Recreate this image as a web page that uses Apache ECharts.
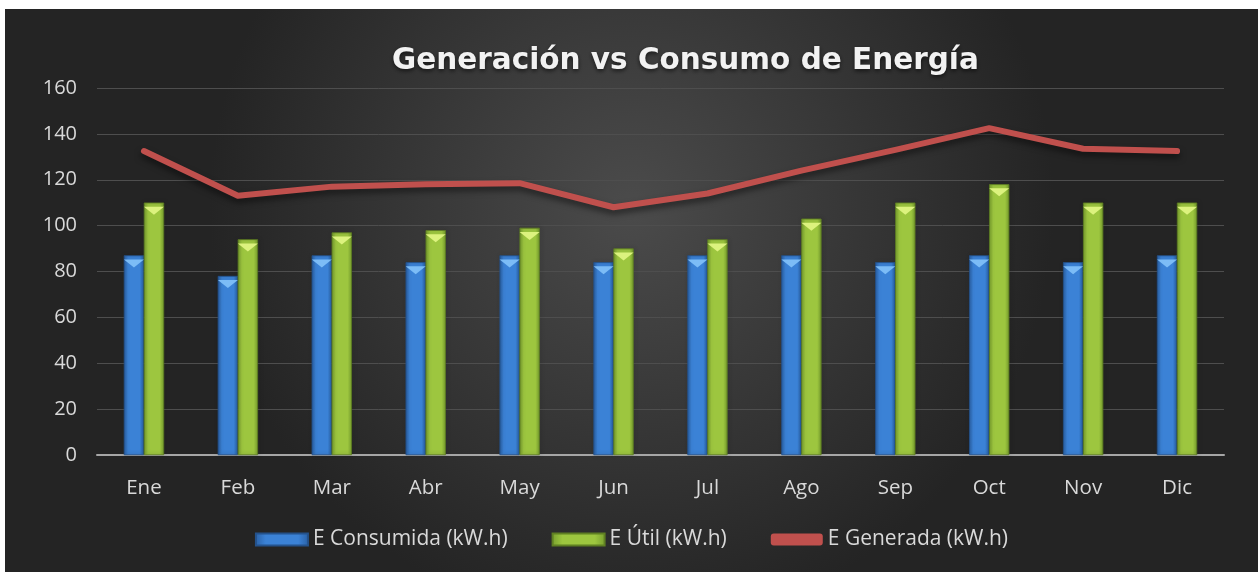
<!DOCTYPE html>
<html>
<head>
<meta charset="utf-8">
<script src="https://cdn.jsdelivr.net/npm/echarts@6/dist/echarts.min.js"></script>
<style>
  html, body { margin: 0; padding: 0; background: #ffffff; }
  #chart { position: absolute; left: 5px; top: 9px; width: 1253px; height: 563px; }
</style>
</head>
<body>
<div id="chart"></div>
<script>
// data
const months = ['Ene', 'Feb', 'Mar', 'Abr', 'May', 'Jun', 'Jul', 'Ago', 'Sep', 'Oct', 'Nov', 'Dic'];
const consumida = [87, 78, 87, 84, 87, 84, 87, 87, 84, 87, 84, 87];
const util = [110, 94, 97, 98, 99, 90, 94, 103, 110, 118, 110, 110];
const generada = [132.5, 113, 117, 118, 118.5, 108, 114, 124, 133, 142.5, 133.5, 132.5];
const yTicks = { min: 0, max: 160, interval: 20 };

const names = ['E Consumida (kW.h)', 'E Útil (kW.h)', 'E Generada (kW.h)'];
const labelFont = '"Open Sans", "Noto Sans", sans-serif';

function hGrad(edge, mid) {
  return new echarts.graphic.LinearGradient(0, 0, 1, 0, [
    { offset: 0, color: edge },
    { offset: 0.2, color: mid },
    { offset: 0.8, color: mid },
    { offset: 1, color: edge }
  ]);
}

const chart = echarts.init(document.getElementById('chart'));

const option = {
  backgroundColor: new echarts.graphic.RadialGradient(0.5, 0.35, 0.75, [
    { offset: 0, color: '#4b4b4b' },
    { offset: 1, color: '#242424' }
  ]),
  title: {
    text: 'Generación vs Consumo de Energía',
    left: 382,
    top: 32,
    textStyle: {
      color: '#f2f2f2',
      fontFamily: '"DejaVu Sans", sans-serif',
      fontWeight: 'bold',
      fontSize: 29.5,
      textShadowColor: 'rgba(0,0,0,0.6)',
      textShadowBlur: 4,
      textShadowOffsetY: 2
    }
  },
  legend: {
    left: 'center',
    top: 515,
    itemWidth: 52,
    itemHeight: 12,
    itemGap: 44,
    textStyle: { color: '#d9d9d9', fontSize: 21, fontFamily: labelFont },
    data: [
      { name: names[0], icon: 'rect' },
      { name: names[1], icon: 'rect' },
      { name: names[2], icon: 'roundRect' }
    ]
  },
  grid: { left: 92, top: 79, width: 1127, height: 367 },
  xAxis: {
    type: 'category',
    data: months,
    axisLine: { lineStyle: { color: '#a6a6a6', width: 2 } },
    axisTick: { show: false },
    axisLabel: { color: '#d9d9d9', fontSize: 20.5, fontFamily: labelFont, margin: 23 }
  },
  yAxis: {
    type: 'value',
    min: yTicks.min,
    max: yTicks.max,
    interval: yTicks.interval,
    axisLine: { show: false },
    axisTick: { show: false },
    splitLine: { lineStyle: { color: '#4e4e4e', width: 1 } },
    axisLabel: { color: '#d9d9d9', fontSize: 20, fontFamily: labelFont, margin: 20 }
  },
  series: [
    {
      name: names[0],
      type: 'bar',
      data: consumida,
      barWidth: 20,
      barGap: '0%',
      itemStyle: {
        color: hGrad('#2a61a6', '#3b82d6'),
        borderColor: '#24528c',
        borderWidth: 0.5,
        shadowColor: 'rgba(0,0,0,0.45)',
        shadowBlur: 4,
        shadowOffsetX: 1
      }
    },
    {
      name: names[1],
      type: 'bar',
      data: util,
      barWidth: 20,
      barGap: '0%',
      itemStyle: {
        color: hGrad('#789f2e', '#9dc63f'),
        borderColor: '#5f7f22',
        borderWidth: 0.5,
        shadowColor: 'rgba(0,0,0,0.45)',
        shadowBlur: 4,
        shadowOffsetX: 1
      }
    },
    // bevel tops of the bars
    {
      name: 'topConsumida',
      type: 'pictorialBar',
      data: consumida,
      barWidth: 20,
      barGap: '0%',
      symbol: 'triangle',
      symbolRotate: 180,
      symbolSize: [20, 8],
      symbolPosition: 'end',
      symbolOffset: [0, '50%'],
      itemStyle: { color: '#7cbcf6' },
      silent: true,
      z: 3
    },
    {
      name: 'topUtil',
      type: 'pictorialBar',
      data: util,
      barWidth: 20,
      barGap: '0%',
      symbol: 'triangle',
      symbolRotate: 180,
      symbolSize: [20, 8],
      symbolPosition: 'end',
      symbolOffset: [0, '50%'],
      itemStyle: { color: '#dcf27e' },
      silent: true,
      z: 3
    },
    {
      name: names[2],
      type: 'line',
      data: generada,
      showSymbol: false,
      symbol: 'none',
      z: 4,
      lineStyle: {
        color: '#c0504d',
        width: 6,
        cap: 'round',
        join: 'round',
        shadowColor: 'rgba(0,0,0,0.5)',
        shadowBlur: 6,
        shadowOffsetY: 4
      },
      itemStyle: { color: '#c0504d' }
    }
  ]
};

chart.setOption(option);
</script>
</body>
</html>
